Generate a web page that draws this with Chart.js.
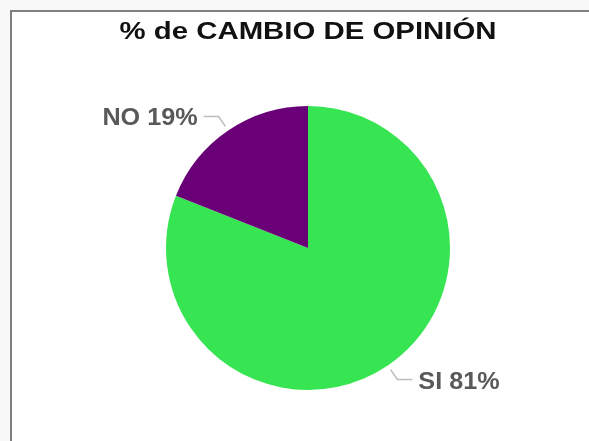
<!DOCTYPE html>
<html>
<head>
<meta charset="utf-8">
<script src="https://cdn.jsdelivr.net/npm/chart.js@4.4.1/dist/chart.umd.min.js"></script>
<style>
  html, body { margin: 0; padding: 0; background: #f8f8f8; }
  #wrap { position: relative; width: 589px; height: 441px; }
</style>
</head>
<body>
<div id="wrap"><canvas id="pie" width="589" height="441"></canvas></div>
<script>
// data
const categories = ["SI", "NO"];
const percentages = [81, 19];
const sliceColors = ["#37e553", "#6a0078"];
const chartTitle = "% de CAMBIO DE OPINIÓN";

// frame + title, drawn like the spreadsheet chart box
const framePlugin = {
  id: "frame",
  beforeDraw(chart) {
    const ctx = chart.ctx;
    ctx.save();
    ctx.fillStyle = "#f8f8f8";
    ctx.fillRect(0, 0, chart.width, chart.height);
    ctx.fillStyle = "#ffffff";
    ctx.fillRect(11, 11, chart.width - 11, chart.height - 11);
    ctx.strokeStyle = "#7f7f7f";
    ctx.lineWidth = 2;
    ctx.beginPath();
    ctx.moveTo(11, chart.height);
    ctx.lineTo(11, 11);
    ctx.lineTo(chart.width, 11);
    ctx.stroke();
    ctx.restore();
  },
  afterDraw(chart) {
    const ctx = chart.ctx;
    ctx.save();
    ctx.font = "bold 24px 'Liberation Sans', Arial, sans-serif";
    ctx.fillStyle = "#111111";
    ctx.textBaseline = "middle";
    ctx.textAlign = "center";
    const w = ctx.measureText(chartTitle).width;
    ctx.translate(308, 32);
    ctx.scale(377 / w, 1);
    ctx.fillText(chartTitle, 0, 0);
    ctx.restore();
  }
};

// outside labels with leader lines
const leaderPlugin = {
  id: "leaders",
  afterDatasetsDraw(chart) {
    const ctx = chart.ctx;
    const meta = chart.getDatasetMeta(0);
    ctx.save();
    ctx.font = "bold 24px 'Liberation Sans', Arial, sans-serif";
    ctx.textBaseline = "middle";
    meta.data.forEach((arc, i) => {
      const p = arc.getProps(["x", "y", "startAngle", "endAngle", "outerRadius"], true);
      const mid = (p.startAngle + p.endAngle) / 2;
      const c = Math.cos(mid), s = Math.sin(mid);
      const x1 = p.x + c * (p.outerRadius + 5), y1 = p.y + s * (p.outerRadius + 5);
      const x2 = p.x + c * (p.outerRadius + 17), y2 = p.y + s * (p.outerRadius + 17);
      const dir = c < 0 ? -1 : 1;
      const x3 = x2 + dir * 15;
      ctx.strokeStyle = "#bdbdbd";
      ctx.lineWidth = 1.5;
      ctx.beginPath();
      ctx.moveTo(x1, y1);
      ctx.lineTo(x2, y2);
      ctx.lineTo(x3, y2);
      ctx.stroke();
      ctx.fillStyle = "#595959";
      ctx.textAlign = dir < 0 ? "right" : "left";
      ctx.save();
      ctx.translate(x3 + dir * 6, y2 + 2 + (dir > 0 ? 1 : 0));
      ctx.scale(1.05, 1);
      ctx.fillText(categories[i] + " " + percentages[i] + "%", 0, 0);
      ctx.restore();
    });
    ctx.restore();
  }
};

new Chart(document.getElementById("pie"), {
  type: "pie",
  data: {
    labels: categories,
    datasets: [{
      data: percentages,
      backgroundColor: sliceColors,
      borderWidth: 0,
      hoverOffset: 0
    }]
  },
  options: {
    responsive: false,
    animation: false,
    devicePixelRatio: 1,
    layout: { padding: { top: 106, bottom: 51, left: 100, right: 73 } },
    plugins: {
      legend: { display: false },
      title: { display: false },
      tooltip: { enabled: false }
    }
  },
  plugins: [framePlugin, leaderPlugin]
});
</script>
</body>
</html>
